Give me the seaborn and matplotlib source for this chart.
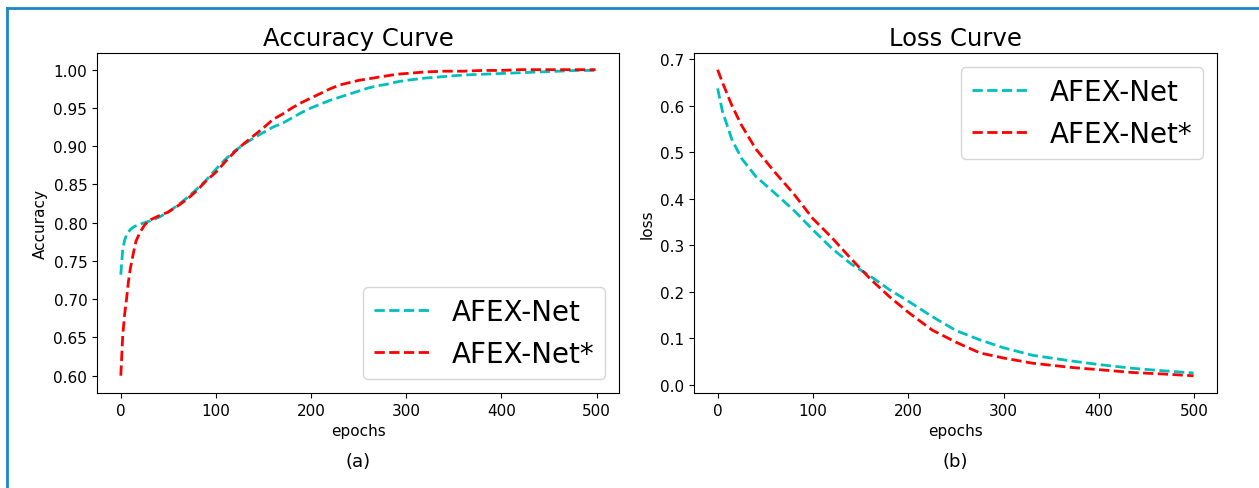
import numpy as np
import pandas as pd
import matplotlib
matplotlib.use("Agg")
import matplotlib.pyplot as plt
import seaborn as sns
from matplotlib.lines import Line2D

# ---------------- data ----------------
series_names = ["AFEX-Net", "AFEX-Net*"]

acc_epochs = [0, 2, 4, 6, 8, 10, 13, 16, 20, 25, 30, 40, 50, 60, 70, 80, 90, 100,
              110, 120, 130, 140, 150, 160, 170, 180, 190, 200, 210, 220, 230, 240,
              250, 260, 270, 280, 290, 300, 320, 340, 360, 380, 400, 420, 440, 460,
              480, 499]
acc_afex = [0.732, 0.765, 0.777, 0.784, 0.788, 0.791, 0.794, 0.796, 0.798, 0.800,
            0.802, 0.807, 0.814, 0.823, 0.833, 0.844, 0.856, 0.870, 0.883, 0.894,
            0.903, 0.911, 0.918, 0.925, 0.930, 0.937, 0.944, 0.950, 0.955, 0.960,
            0.964, 0.968, 0.972, 0.976, 0.979, 0.981, 0.984, 0.986, 0.989, 0.991,
            0.993, 0.994, 0.995, 0.996, 0.997, 0.998, 0.999, 0.999]
acc_afex_star = [0.600, 0.652, 0.680, 0.700, 0.723, 0.740, 0.759, 0.776, 0.787, 0.797,
                 0.803, 0.809, 0.814, 0.822, 0.831, 0.842, 0.855, 0.866, 0.880, 0.893,
                 0.904, 0.914, 0.924, 0.935, 0.942, 0.950, 0.957, 0.963, 0.969, 0.975,
                 0.980, 0.983, 0.986, 0.988, 0.990, 0.992, 0.994, 0.995, 0.997, 0.998,
                 0.998, 0.999, 0.999, 1.000, 1.000, 1.000, 1.000, 1.000]

loss_epochs = [0, 5, 15, 25, 40, 60, 80, 100, 120, 140, 160, 180, 200, 225, 250, 275,
               300, 330, 370, 400, 435, 465, 499]
loss_afex = [0.637, 0.588, 0.527, 0.487, 0.448, 0.412, 0.375, 0.333, 0.293, 0.260,
             0.234, 0.205, 0.180, 0.147, 0.117, 0.097, 0.080, 0.064, 0.052, 0.044,
             0.036, 0.031, 0.026]
loss_afex_star = [0.677, 0.650, 0.600, 0.558, 0.507, 0.457, 0.410, 0.357, 0.316, 0.271,
                  0.228, 0.190, 0.156, 0.118, 0.092, 0.069, 0.058, 0.047, 0.038, 0.033,
                  0.027, 0.024, 0.020]

acc_ticks = [0.60, 0.65, 0.70, 0.75, 0.80, 0.85, 0.90, 0.95, 1.00]
loss_ticks = [0.0, 0.1, 0.2, 0.3, 0.4, 0.5, 0.6, 0.7]
epoch_ticks = [0, 100, 200, 300, 400, 500]

# ---------------- frames ----------------
acc_df = pd.DataFrame({
    "epochs": acc_epochs + acc_epochs,
    "value": acc_afex + acc_afex_star,
    "model": [series_names[0]] * len(acc_epochs) + [series_names[1]] * len(acc_epochs),
})
loss_df = pd.DataFrame({
    "epochs": loss_epochs + loss_epochs,
    "value": loss_afex + loss_afex_star,
    "model": [series_names[0]] * len(loss_epochs) + [series_names[1]] * len(loss_epochs),
})

palette = {series_names[0]: "c", series_names[1]: "r"}
dashes = {series_names[0]: (3.7, 1.6), series_names[1]: (3.7, 1.6)}

plt.rcParams["font.family"] = ["DejaVu Sans"]

fig = plt.figure(figsize=(12.59, 4.89), dpi=100)
ax1 = fig.add_axes([0.0771, 0.1943, 0.4148, 0.6953])
ax2 = fig.add_axes([0.5511, 0.1943, 0.4158, 0.6953])

for ax, df, ticks, ylabel, title, cap, loc in [
    (ax1, acc_df, acc_ticks, "Accuracy", "Accuracy Curve", "(a)", "lower right"),
    (ax2, loss_df, loss_ticks, "loss", "Loss Curve", "(b)", "upper right"),
]:
    sns.lineplot(data=df, x="epochs", y="value", hue="model", style="model",
                 palette=palette, dashes=dashes, linewidth=2, ax=ax)
    ax.set_yticks(ticks)
    ax.set_yticklabels([f"{t:.2f}" if ax is ax1 else f"{t:.1f}" for t in ticks])
    ax.set_xticks(epoch_ticks)
    ax.set_xlim(-24.95, 523.95)
    ax.tick_params(labelsize=11)
    ax.set_xlabel("epochs", fontsize=11)
    ax.set_ylabel(ylabel, fontsize=11)
    ax.set_title(title, fontsize=17.5)
    ax.legend(loc=loc, fontsize=20)
    ax.text(0.5, -0.2, cap, transform=ax.transAxes, ha="center", va="center",
            fontsize=13)

ax1.set_ylim(0.5774, 1.0218)
ax2.set_ylim(-0.017, 0.713)

# figure border (top and left)
W, H = 1259, 489
bc = "#1b88c6"
fig.add_artist(Line2D([7 / W, 1.0], [1 - 9 / H, 1 - 9 / H], color=bc, lw=2,
                      transform=fig.transFigure))
fig.add_artist(Line2D([7 / W, 7 / W], [0.0, 1 - 9 / H], color=bc, lw=2,
                      transform=fig.transFigure))

fig.savefig("out.png", dpi=100)
